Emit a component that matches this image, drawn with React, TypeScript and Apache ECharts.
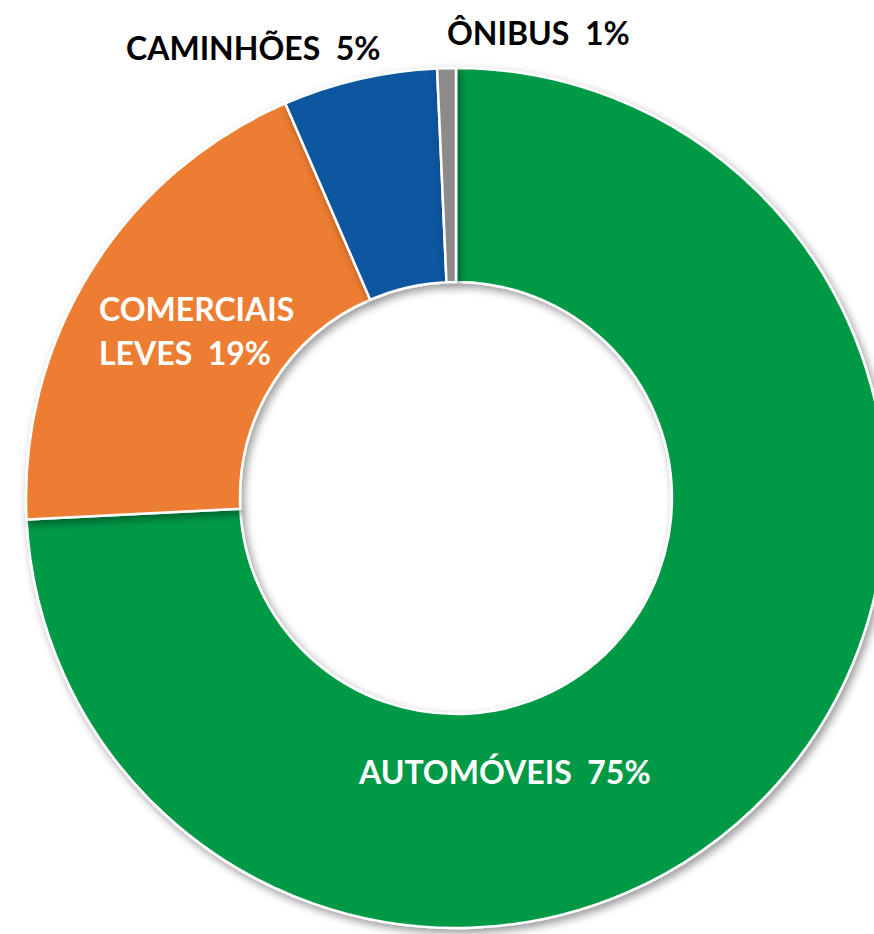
import React, { useEffect, useRef } from "react";
import * as echarts from "echarts";

const categories = ["AUTOMÓVEIS", "COMERCIAIS\nLEVES", "CAMINHÕES", "ÔNIBUS"];
const shares = [74.2, 19.3, 5.8, 0.7];
const shareLabels = ["75%", "19%", "5%", "1%"];
const sliceColors = ["#009A46", "#ED7D31", "#0A56A0", "#8E8A8A"];
const labelColors = ["#FFFFFF", "#FFFFFF", "#000000", "#000000"];
// label anchor (left x, vertical middle y) in pixels
const labelAnchors: [number, number][] = [
  [359, 771],
  [99, 330],
  [126, 47],
  [447, 32],
];

export default function App() {
  const ref = useRef<HTMLDivElement>(null);
  useEffect(() => {
    document.body.style.margin = "0";
    document.body.style.overflow = "hidden";
    const chart = echarts.init(ref.current!, undefined, { renderer: "svg" });
    chart.setOption({
      animation: false,
      backgroundColor: "#FFFFFF",
      series: [
        {
          type: "pie",
          center: [456, 498],
          radius: [216, 430],
          startAngle: 90,
          clockwise: true,
          avoidLabelOverlap: false,
          itemStyle: {
            borderColor: "#FFFFFF",
            borderWidth: 2.5,
            shadowBlur: 8,
            shadowOffsetX: 3,
            shadowOffsetY: 4,
            shadowColor: "rgba(0,0,0,0.4)",
          },
          emphasis: { disabled: true },
          label: {
            show: true,
            position: "inside",
            fontFamily: "Lato, 'Open Sans', sans-serif",
            fontWeight: "bold",
            fontSize: 32,
            lineHeight: 44,
            align: "left",
            formatter: (p: any) => `${categories[p.dataIndex]}  ${shareLabels[p.dataIndex]}`,
          },
          labelLine: { show: false },
          labelLayout: (p: any) => ({
            x: labelAnchors[p.dataIndex][0],
            y: labelAnchors[p.dataIndex][1],
            align: "left",
            verticalAlign: "middle",
          }),
          data: categories.map((c, i) => ({
            name: c,
            value: shares[i],
            itemStyle: { color: sliceColors[i] },
            label: { color: labelColors[i] },
          })),
        },
      ],
    });
    return () => chart.dispose();
  }, []);
  return <div ref={ref} style={{ width: 874, height: 934 }} />;
}
